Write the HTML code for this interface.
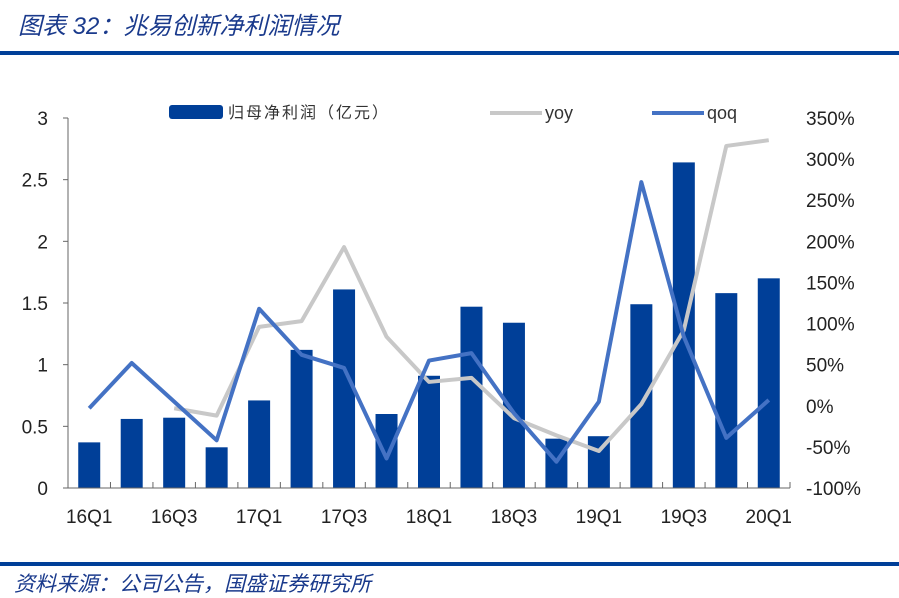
<!DOCTYPE html>
<html><head><meta charset="utf-8"><style>
body{margin:0;background:#fff;width:899px;height:583px;overflow:hidden;position:relative;font-family:"Liberation Sans","Noto Sans CJK SC",sans-serif}
.t{position:absolute;left:18px;top:6px;font-size:24px;font-style:italic;color:#1a3a8c;font-family:"Liberation Sans","Noto Sans CJK SC",sans-serif}
.hl{position:absolute;left:0;width:899px;height:4px;background:#003f98}
.src{position:absolute;left:14px;top:568px;font-size:21px;font-style:italic;color:#1a3a8c}
svg{position:absolute;left:0;top:0}
</style></head><body>
<div class="t">图表 32：兆易创新净利润情况</div>
<div class="hl" style="top:51px"></div>
<div class="hl" style="top:562px"></div>
<div class="src">资料来源：公司公告，国盛证券研究所</div>
<svg id="c" width="899" height="583"></svg>
<script>
const categories=["16Q1","16Q2","16Q3","16Q4","17Q1","17Q2","17Q3","17Q4","18Q1","18Q2","18Q3","18Q4","19Q1","19Q2","19Q3","19Q4","20Q1"];
const profit=[0.37,0.56,0.57,0.33,0.71,1.12,1.61,0.60,0.91,1.47,1.34,0.40,0.42,1.49,2.64,1.58,1.70];
const yoy=[null,null,-3,-12,96,103,193,84,29,34,-15,-36,-55,2,92,316,323];
const qoq=[-3,52,5,-42,118,62,46,-64,55,64,-9,-68,5,272,84,-39,7];
const leftTicks=[0,0.5,1,1.5,2,2.5,3];
const rightTicks=[-100,-50,0,50,100,150,200,250,300,350];
const svg=document.getElementById('c'),NS='http://www.w3.org/2000/svg';
function mk(t,a,p){const e=document.createElementNS(NS,t);for(const k in a)e.setAttribute(k,a[k]);(p||svg).appendChild(e);return e;}
const X0=68,X1=790,Y0=488,Y1=118,bw=(X1-X0)/categories.length;
const xc=i=>X0+bw*(i+0.5);
const yl=v=>Y0-(v/3)*(Y0-Y1);
const yr=v=>Y0-((v+100)/450)*(Y0-Y1);
const narrow='"Liberation Sans Narrow","Liberation Sans",sans-serif';
leftTicks.forEach(v=>{const t=mk('text',{x:48,y:yl(v)+7,'text-anchor':'end','font-size':19,fill:'#222','font-family':narrow});t.textContent=v;

mk('line',{x1:X0-5,x2:X0,y1:yl(v),y2:yl(v),stroke:'#666'});});
rightTicks.forEach(v=>{const t=mk('text',{x:806,y:yr(v)+7,'font-size':19,fill:'#222','font-family':narrow});t.textContent=v+'%';
});
profit.forEach((v,i)=>{const r=mk('rect',{x:xc(i)-11,y:yl(v),width:22,height:Y0-yl(v),fill:'#003f98'});
});
mk('line',{x1:X0,x2:X0,y1:Y1,y2:Y0,stroke:'#666'});
mk('line',{x1:X0,x2:X1,y1:Y0,y2:Y0,stroke:'#666'});
for(let i=0;i<=categories.length;i++)mk('line',{x1:X0+bw*i,x2:X0+bw*i,y1:Y0,y2:Y0-6,stroke:'#666'});
categories.forEach((c,i)=>{if(i%2)return;const t=mk('text',{x:xc(i),y:523,'text-anchor':'middle','font-size':19,fill:'#222','font-family':narrow});t.textContent=c;
});
function line(arr,col,name){let d='';arr.forEach((v,i)=>{if(v==null)return;d+=(d?'L':'M')+xc(i)+','+yr(v);});
const p=mk('path',{d:d,fill:'none',stroke:col,'stroke-width':4,'stroke-linejoin':'round'});}
line(yoy,'#c8c8c8','yoy-line');line(qoq,'#4472c4','qoq-line');
const lg=mk('g',{});
mk('rect',{x:169,y:105,width:54,height:14,rx:3,fill:'#003f98'},lg);
let t=mk('text',{x:228,y:118,'font-size':16,fill:'#333','letter-spacing':2},lg);t.textContent='归母净利润（亿元）';
mk('line',{x1:490,x2:542,y1:113,y2:113,stroke:'#c8c8c8','stroke-width':4},lg);
t=mk('text',{x:545,y:119,'font-size':18,fill:'#333'},lg);t.textContent='yoy';
mk('line',{x1:652,x2:704,y1:113,y2:113,stroke:'#4472c4','stroke-width':4},lg);
t=mk('text',{x:707,y:119,'font-size':18,fill:'#333'},lg);t.textContent='qoq';
</script>
</body></html>
